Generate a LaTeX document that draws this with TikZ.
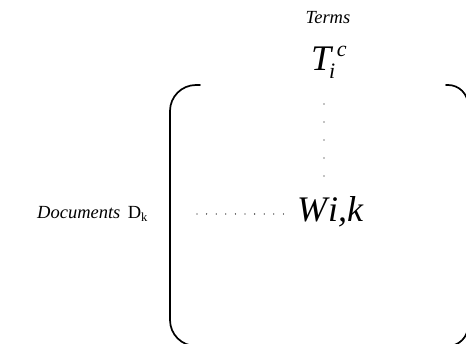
\documentclass[tikz,border=0pt]{standalone}
\usepackage{fontspec}
\setmainfont{Liberation Serif}
\usepackage{tikz}
\usetikzlibrary{
  positioning,
  calc
}
\tikzset{
  axistext/.style={
    inner sep=0pt,
    font=\fontsize{18.5}{20}\selectfont\itshape
  },
  entry/.style={
    inner sep=0pt,
    font=\fontsize{36}{40}\selectfont\itshape
  },
  bracket/.style={
    line width=1.7pt,
    line cap=round
  },
  dotrow/.style={
    line width=1.3pt,
    line cap=round
  }
}
\newcommand{\idxfont}{\fontsize{22}{22}\selectfont}

\begin{document}
\begin{tikzpicture}[
  x=1pt,
  y=-1pt
]

  \useasboundingbox (0,0) rectangle (466,344);

  \node[
    axistext,
    anchor=base
  ] (terms) at (328,24) {
    Terms
  };

  \node[
    entry,
    anchor=base west
  ] (tic) at (311,71) {
    T\kern-2pt\raisebox{-8pt}{\idxfont i}\kern1.5pt\raisebox{14pt}{\idxfont c}
  };

  \node[
    entry,
    anchor=base west
  ] (wik) at (297,222) {
    W\kern1pt i,k
  };

  \node[
    axistext,
    anchor=base west
  ] (docs) at (37,219) {
    Documents
  };

  \node[
    axistext,
    font=\fontsize{18.5}{20}\selectfont\upshape,
    right=7pt of docs.base east,
    anchor=base west
  ] (dk) {
    D\raisebox{-3pt}{\fontsize{12.5}{12}\selectfont k}
  };

  % brackets
  \draw[bracket, rounded corners=26pt]
  (200,85) -- (170,85) -- (170,346) -- (196,346);

  \draw[bracket, rounded corners=20pt]
  (446,85) -- (468,85) -- (468,346) -- (446,346);

  % dotted rows
  \coordinate (vtop) at (324,104);
  \coordinate (hleft) at (197,214);

  \draw[
    dotrow,
    dash pattern=on 0pt off 18pt,
    shorten >=14pt
  ]
  (vtop) --
  (vtop |- wik.north);

  \draw[
    dotrow,
    dash pattern=on 0pt off 9.6pt,
    shorten >=10pt
  ]
  (hleft) --
  (hleft -| wik.west);

\end{tikzpicture}
\end{document}
